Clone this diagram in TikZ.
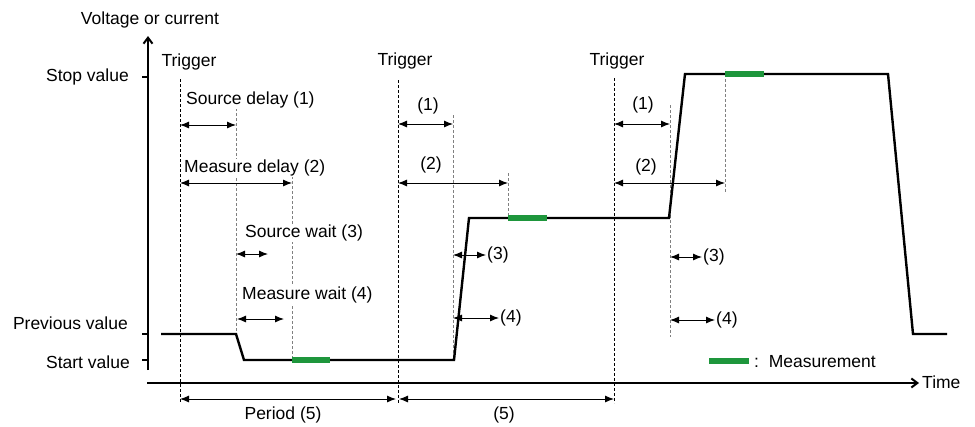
\documentclass[tikz,border=0pt]{standalone}
\usepackage{fontspec}
\setmainfont{Liberation Sans}
\usetikzlibrary{arrows.meta}
\definecolor{measgreen}{RGB}{30,150,60}
\begin{document}
\begin{tikzpicture}[x=1pt,y=-1pt,
  every node/.style={font=\fontsize{17.5}{19}\selectfont,inner sep=1pt},
  axis/.style={line width=2pt,-{Straight Barb[length=6pt,width=9pt]}},
  tick/.style={line width=1.6pt},
  sig/.style={line width=2.4pt},
  meas/.style={line width=6pt,measgreen},
  trig/.style={line width=0.6pt,dash pattern=on 3pt off 2pt},
  guide/.style={line width=0.8pt,gray,dash pattern=on 3pt off 2pt},
  span/.style={line width=0.9pt,{Latex[length=9pt,width=7pt]}-{Latex[length=9pt,width=7pt]}},
  lbl/.style={fill=white,anchor=west}]
\useasboundingbox (0,0) rectangle (975,426);
% axes
\coordinate (yb) at (148,370);
\coordinate (yt) at (148,36);
\coordinate (xo) at (147,383);
\coordinate (xe) at (919,383);
\draw[axis] (yb)--(yt);
\draw[axis] (xo)--(xe);
\node (ylab) at (150,20) {Voltage or current};
\node[anchor=west] (tlab) at (921,382) {Time};
% value ticks
\draw[tick] (142,77)--(148,77);
\draw[tick] (142,334)--(148,334);
\draw[tick] (142,360)--(148,360);
\node[anchor=east] (stopv) at (130,77) {Stop value};
\node[anchor=east] (prevv) at (129,323) {Previous value};
\node[anchor=east] (startv) at (131,362) {Start value};
% trigger lines
\draw[trig] (180,79)--(180,403);
\draw[trig] (398,80)--(398,403);
\draw[trig] (614,78)--(614,403);
\node (trig1) at (189,62) {Trigger};
\node (trig2) at (405,61) {Trigger};
\node (trig3) at (617,61) {Trigger};
% guide lines
\draw[guide] (236,108)--(236,332);
\draw[guide] (292,176)--(292,360);
\draw[guide] (453,115)--(453,360);
\draw[guide] (508,173)--(508,218);
\draw[guide] (670,105)--(670,337);
\draw[guide] (725,74)--(725,193);
% output waveform
\draw[sig] (161,334)--(236,334)--(244,360)--(454,360)--(469,218)--(669,218)
  --(685,74)--(888,74)--(913,334)--(947,334);
% measurements
\draw[meas] (292,360)--(330,360);
\draw[meas] (508,218)--(547,218);
\draw[meas] (725,74)--(764,74);
% first step
\coordinate (a1) at (180,125); \coordinate (b1) at (236,125);
\coordinate (a2) at (180,183); \coordinate (b2) at (292,183);
\coordinate (a3) at (236,254); \coordinate (b3) at (268,254);
\coordinate (a4) at (237,319); \coordinate (b4) at (284,319);
\draw[span] (a1)--(b1);
\draw[span] (a2)--(b2);
\draw[span] (a3)--(b3);
\draw[span] (a4)--(b4);
\node[lbl] (sd) at (185,100) {Source delay (1)};
\node[lbl] (md) at (183,168) {Measure delay (2)};
\node[lbl] (sw) at (244,233) {Source wait (3)};
\node[lbl] (mw) at (241,295) {Measure wait (4)};
% second step
\coordinate (c1) at (398,124); \coordinate (d1) at (453,124);
\coordinate (c2) at (398,183); \coordinate (d2) at (508,183);
\coordinate (c3) at (453,255); \coordinate (d3) at (486,255);
\coordinate (c4) at (453,318); \coordinate (d4) at (499,318);
\draw[span] (c1)--(d1);
\draw[span] (c2)--(d2);
\draw[span] (c3)--(d3);
\draw[span] (c4)--(d4);
\node (n1b) at (428,106) {(1)};
\node (n2b) at (431,165) {(2)};
\node[anchor=west] (n3b) at (d3) {(3)};
\node[anchor=west] (n4b) at (d4) {(4)};
% third step
\coordinate (e1) at (614,124); \coordinate (f1) at (670,124);
\coordinate (e2) at (614,183); \coordinate (f2) at (725,183);
\coordinate (e3) at (670,257); \coordinate (f3) at (702,257);
\coordinate (e4) at (670,320); \coordinate (f4) at (715,320);
\draw[span] (e1)--(f1);
\draw[span] (e2)--(f2);
\draw[span] (e3)--(f3);
\draw[span] (e4)--(f4);
\node (n1c) at (643,105) {(1)};
\node (n2c) at (646,167) {(2)};
\node[anchor=west] (n3c) at (f3) {(3)};
\node[anchor=west] (n4c) at (f4) {(4)};
% period
\coordinate (p0) at (180,399); \coordinate (p1) at (396,399);
\coordinate (q0) at (399,399); \coordinate (q1) at (614,399);
\draw[span] (p0)--(p1);
\draw[span] (q0)--(q1);
\node (per1) at (283,415) {Period (5)};
\node (per2) at (504,415) {(5)};
% legend
\draw[meas] (709,361)--(749,361);
\node[anchor=west] (leg) at (753,362) {:\ \ Measurement};
\end{tikzpicture}
\end{document}
